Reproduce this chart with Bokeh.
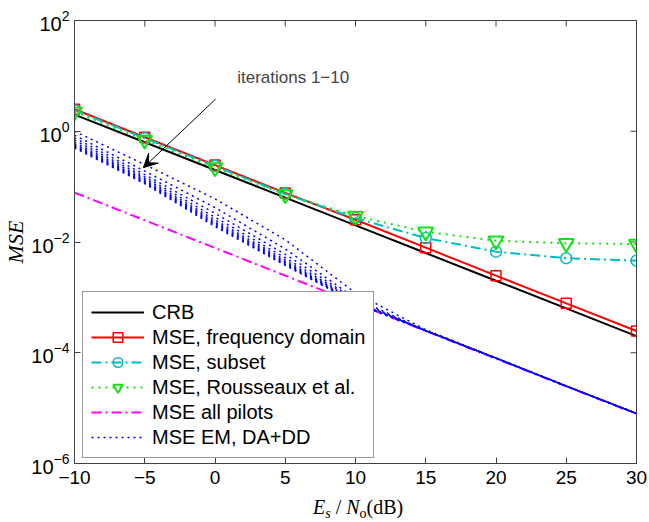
from bokeh.plotting import figure
from bokeh.models import Range1d, FixedTicker, Label, Arrow, VeeHead, LogTickFormatter, Div
from bokeh.layouts import column
from bokeh.embed import file_html
from bokeh.resources import INLINE

# ---------------- data ----------------
snr_db = [-10, -5, 0, 5, 10, 15, 20, 25, 30]
crb = [2.0, 0.632, 0.2, 0.0632, 0.02, 0.00632, 0.002, 0.000632, 0.0002]
mse_freq = [2.5, 0.78, 0.245, 0.077, 0.0252, 0.0079, 0.00247, 0.00078, 0.000247]
mse_subset = [2.4, 0.75, 0.235, 0.074, 0.027, 0.0118, 0.0067, 0.0051, 0.0046]
mse_rousseaux = [2.25, 0.69, 0.22, 0.072, 0.0295, 0.0153, 0.0105, 0.0095, 0.0092]
mse_all_pilots = [0.078, 0.0247, 0.0078, 0.00247, 0.00078, 0.000247, 7.8e-5, 2.47e-5, 7.9e-6]
em_it1 = [1.00, 0.25, 0.060, 0.0110, 1.20e-3, 2.6e-4, 8.0e-5, 2.5e-5, 8.0e-6]
em_it2 = [0.85, 0.19, 0.042, 0.0075, 9.6e-4, 2.5e-4, 8.0e-5, 2.5e-5, 8.0e-6]
em_it3 = [0.76, 0.165, 0.033, 0.0060, 9.0e-4, 2.5e-4, 8.0e-5, 2.5e-5, 8.0e-6]
em_it4 = [0.69, 0.150, 0.028, 0.0052, 8.6e-4, 2.5e-4, 8.0e-5, 2.5e-5, 8.0e-6]
em_it5 = [0.63, 0.140, 0.025, 0.0047, 8.4e-4, 2.5e-4, 8.0e-5, 2.5e-5, 8.0e-6]
em_it6 = [0.59, 0.132, 0.023, 0.0044, 8.2e-4, 2.5e-4, 8.0e-5, 2.5e-5, 8.0e-6]
em_it7 = [0.56, 0.126, 0.022, 0.0042, 8.1e-4, 2.5e-4, 8.0e-5, 2.5e-5, 8.0e-6]
em_it8 = [0.54, 0.121, 0.021, 0.0040, 8.0e-4, 2.5e-4, 8.0e-5, 2.5e-5, 8.0e-6]
em_it9 = [0.52, 0.117, 0.020, 0.0039, 8.0e-4, 2.5e-4, 8.0e-5, 2.5e-5, 8.0e-6]
em_it10 = [0.50, 0.113, 0.019, 0.0038, 7.9e-4, 2.5e-4, 8.0e-5, 2.5e-5, 8.0e-6]
em_iterations = [em_it1, em_it2, em_it3, em_it4, em_it5,
                 em_it6, em_it7, em_it8, em_it9, em_it10]
x_ticks = [-10, -5, 0, 5, 10, 15, 20, 25, 30]
x_tick_labels = {-10: "\u221210", -5: "\u22125"}
y_ticks = [1e-6, 1e-4, 1e-2, 1.0, 1e2]

# ---------------- figure ----------------
AX = "#404040"
SANS = "Liberation Sans"
SERIF = "Liberation Serif"
X0, X1, Y0, Y1 = -10, 30, 1e-6, 1e2

p = figure(width=648, height=494, x_range=Range1d(X0, X1), y_range=Range1d(Y0, Y1),
           y_axis_type="log", output_backend="svg", toolbar_location=None,
           min_border_left=74, min_border_right=12, min_border_top=20, min_border_bottom=31)
p.grid.visible = False
p.outline_line_color = AX
p.outline_line_width = 1
p.background_fill_color = "white"
p.border_fill_color = "white"

for ax in p.xaxis + p.yaxis:
    ax.major_tick_in = 6
    ax.major_tick_out = 0
    ax.minor_tick_in = 0
    ax.minor_tick_out = 0
    ax.axis_line_color = AX
    ax.major_tick_line_color = AX
    ax.major_label_text_font = SANS
    ax.major_label_text_color = "black"

p.xaxis.major_label_standoff = 7
p.yaxis.major_label_standoff = 5
p.xaxis.major_label_text_font_size = "19px"
p.yaxis.major_label_text_font_size = "20px"
p.xaxis.ticker = FixedTicker(ticks=x_ticks)
p.xaxis.major_label_overrides = x_tick_labels
p.yaxis.ticker = FixedTicker(ticks=y_ticks)
p.yaxis.formatter = LogTickFormatter()

p.yaxis.axis_label = "MSE"
p.yaxis.axis_label_text_font = SERIF
p.yaxis.axis_label_text_font_style = "italic"
p.yaxis.axis_label_text_font_size = "22px"
p.yaxis.axis_label_text_color = "black"
p.yaxis.axis_label_standoff = 0

# mirrored inward ticks on top and right edges (box on), 6 px long
tick_dx = 6 / 14.05          # dB per 6 px
tick_fy = 10 ** (6 / 55.375)  # decade factor per 6 px
p.segment(x0=x_ticks, y0=[Y1] * len(x_ticks), x1=x_ticks, y1=[Y1 / tick_fy] * len(x_ticks),
          line_color=AX, line_width=1)
p.segment(x0=[X1] * len(y_ticks), y0=y_ticks, x1=[X1 - tick_dx] * len(y_ticks), y1=y_ticks,
          line_color=AX, line_width=1)

# ---------------- series ----------------
p.line(snr_db, crb, line_color="black", line_width=2, legend_label="CRB")

RED = "#ff0000"
p.line(snr_db, mse_freq, line_color=RED, line_width=2, legend_label="MSE, frequency domain")
p.scatter(snr_db, mse_freq, marker="square", size=10, line_color=RED, line_width=1.5,
          fill_alpha=0, legend_label="MSE, frequency domain")

CYAN = "#00bcc4"
p.line(snr_db, mse_subset, line_color=CYAN, line_width=2, line_dash="10 4 2 4",
       legend_label="MSE, subset")
p.scatter(snr_db, mse_subset, marker="circle", size=11, line_color=CYAN, line_width=1.5,
          fill_alpha=0, legend_label="MSE, subset")

GREEN = "#14e014"
p.line(snr_db, mse_rousseaux, line_color=GREEN, line_width=2, line_dash="2 5",
       legend_label="MSE, Rousseaux et al.")
p.scatter(snr_db, mse_rousseaux, marker="inverted_triangle", size=15, line_color=GREEN,
          line_width=2, fill_alpha=0, legend_label="MSE, Rousseaux et al.")

MAG = "#ff00ff"
p.line(snr_db, mse_all_pilots, line_color=MAG, line_width=2, line_dash="10 4 2 4",
       legend_label="MSE all pilots")

BLUE = "#0000ff"
for i, it in enumerate(em_iterations):
    kw = {"legend_label": "MSE EM, DA+DD"} if i == 0 else {}
    p.line(snr_db, it, line_color=BLUE, line_width=1.5, line_dash="2 4", **kw)

# ---------------- legend ----------------
lg = p.legend[0]
lg.location = (8, 5)
lg.margin = 0
lg.padding = 8
lg.spacing = 1
lg.glyph_width = 53
lg.glyph_height = 24
lg.label_height = 24
lg.label_standoff = 8
lg.label_text_font = SANS
lg.label_text_font_size = "20px"
lg.label_text_color = "black"
lg.border_line_color = "#333333"
lg.border_line_width = 1
lg.background_fill_color = "white"
lg.background_fill_alpha = 1.0

# ---------------- annotations ----------------
p.add_layout(Arrow(end=VeeHead(size=14, fill_color="black", line_color="black"),
                   x_start=0.04, y_start=3.8, x_end=-5.1, y_end=0.22,
                   line_color="black", line_width=1))
p.add_layout(Label(x=1.58, y=9.2, text="iterations 1\u221210", text_font=SANS,
                   text_font_size="17px", text_baseline="middle", text_align="left"))

# x-axis label  E_s / N_o(dB)  (mixed italic + subscripts) as an HTML line under the plot
xlabel_html = (
    '<div style="padding-top:3px; margin-left:313px; white-space:nowrap; '
    'font-family:\'Liberation Serif\', serif; font-size:20px; line-height:20px; color:black;">'
    '<i>E</i><i style="position:relative; top:4px; font-size:14px;">s</i>'
    '<span> / </span><i>N</i>'
    '<span style="position:relative; top:4px; font-size:14px;">o</span>(dB)'
    '</div>'
)
xlabel = Div(text=xlabel_html, width=648, height=27, margin=(0, 0, 0, 0))

layout = column(p, xlabel, spacing=0)
open("out.html", "w").write(file_html(layout, INLINE))
